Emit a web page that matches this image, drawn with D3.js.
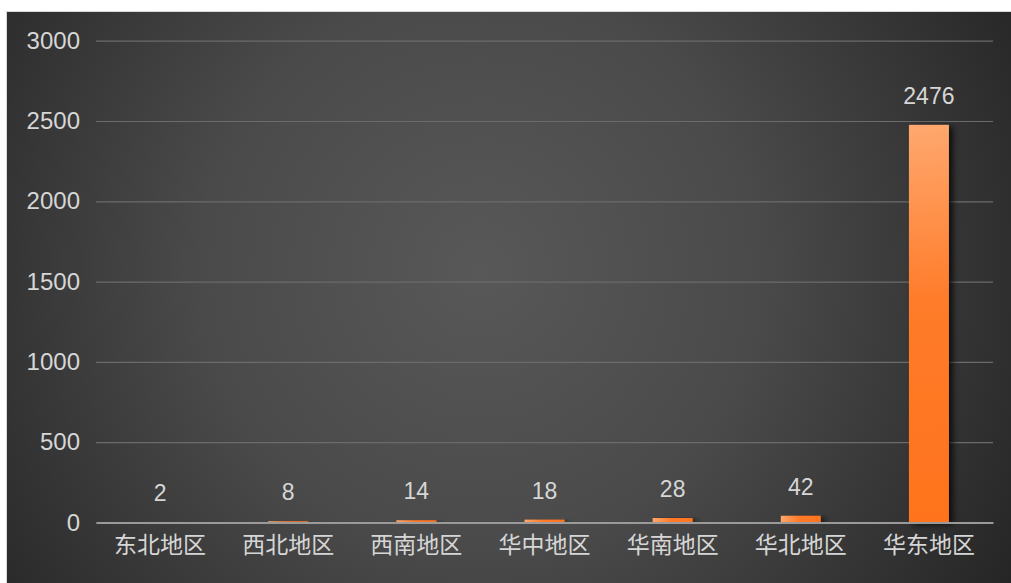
<!DOCTYPE html>
<html><head><meta charset="utf-8">
<script src="https://cdn.jsdelivr.net/npm/d3@7"></script>
<style>
html,body{margin:0;padding:0;background:#fff;}
svg{display:block;}
</style></head>
<body>
<svg id="chart" width="1011" height="583"></svg>
<script>
const categories = ["东北地区","西北地区","西南地区","华中地区","华南地区","华北地区","华东地区"];
const values = [2, 8, 14, 18, 28, 42, 2476];
const yTicks = [0, 500, 1000, 1500, 2000, 2500, 3000];

(function(){
const W = 1011, H = 583;
const svg = d3.select("#chart");
const defs = svg.append("defs");

const bg = defs.append("radialGradient").attr("id","bg")
  .attr("gradientUnits","userSpaceOnUse")
  .attr("cx", 480).attr("cy", 270).attr("r", 620);
bg.append("stop").attr("offset","0%").attr("stop-color","#585858");
bg.append("stop").attr("offset","45%").attr("stop-color","#4a4a4a");
bg.append("stop").attr("offset","100%").attr("stop-color","#252525");

const shadow = defs.append("filter").attr("id","shadow")
  .attr("x","-50%").attr("y","-10%").attr("width","200%").attr("height","120%");
shadow.append("feDropShadow").attr("dx",4).attr("dy",2).attr("stdDeviation",3)
  .attr("flood-color","#000").attr("flood-opacity",0.75);

svg.append("rect").attr("x",7).attr("y",12).attr("width",W-7).attr("height",H-12)
  .attr("fill","url(#bg)");
svg.append("line").attr("x1",7).attr("x2",W).attr("y1",11.5).attr("y2",11.5)
  .attr("stroke","#d8d8d8").attr("stroke-width",1);
svg.append("line").attr("x1",6.5).attr("x2",6.5).attr("y1",11).attr("y2",H)
  .attr("stroke","#d8d8d8").attr("stroke-width",1);

const mLeft = 96, mRight = 993, mTop = 40.7, mBottom = 522.5;
const x = d3.scaleBand().domain(categories).range([mLeft, mRight]).paddingInner(0.688).paddingOuter(0.344);
const y = d3.scaleLinear().domain([0, 3000]).range([mBottom, mTop]);

const font = "'Liberation Sans', Arial, 'Noto Sans CJK SC', sans-serif";
const textColor = "#d6d6d6";

const yAxis = d3.axisLeft(y).tickValues(yTicks).tickSize(-(mRight-mLeft)).tickPadding(16).tickFormat(d3.format("d"));
const gy = svg.append("g").attr("transform",`translate(${mLeft},0)`).call(yAxis);
gy.select(".domain").remove();
gy.selectAll(".tick line").attr("stroke","#6b6b6b").attr("stroke-width",1.2);
gy.selectAll(".tick text").attr("fill",textColor).style("font-family",font).style("font-size","24px");

values.forEach((v,i)=>{
  const bx = x(categories[i]), by = y(v), bw = x.bandwidth(), bh = mBottom - y(v);
  const g = defs.append("linearGradient").attr("id","barg"+i)
    .attr("gradientUnits","userSpaceOnUse")
    .attr("x1",bx).attr("y1",by).attr("x2",bx+bw).attr("y2",by+bh);
  g.append("stop").attr("offset","0%").attr("stop-color","#ffa86f");
  g.append("stop").attr("offset","45%").attr("stop-color","#ff7b29");
  g.append("stop").attr("offset","100%").attr("stop-color","#ff731d");
});

svg.append("g").selectAll("rect").data(values).join("rect")
  .attr("x",(d,i)=>x(categories[i]))
  .attr("y",d=>y(d))
  .attr("width",x.bandwidth())
  .attr("height",d=>mBottom - y(d))
  .attr("fill",(d,i)=>`url(#barg${i})`)
  .attr("filter","url(#shadow)");

const xAxis = d3.axisBottom(x).tickSize(0).tickPadding(14);
const gx = svg.append("g").attr("transform",`translate(0,${mBottom})`).call(xAxis);
gx.select(".domain").attr("stroke","#9a9a9a").attr("stroke-width",2);
gx.selectAll(".tick text").attr("fill",textColor).style("font-family",font).style("font-size","23px");

svg.append("g").selectAll("text").data(values).join("text")
  .attr("x",(d,i)=>x(categories[i]) + x.bandwidth()/2)
  .attr("y",d=>y(d) - 21)
  .attr("text-anchor","middle")
  .attr("fill",textColor)
  .style("font-family",font).style("font-size","23px")
  .text(d=>d);
})();
</script>
</body></html>
